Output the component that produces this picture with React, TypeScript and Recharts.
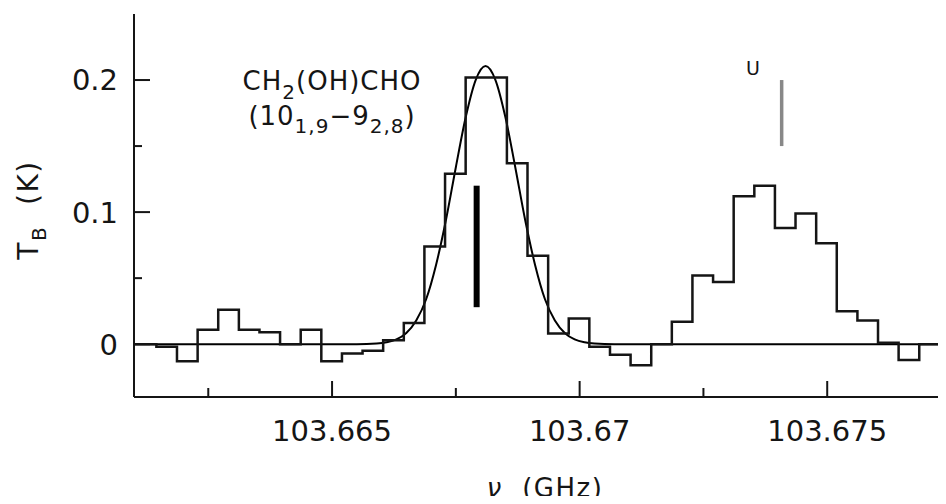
import { LineChart, Line, XAxis, YAxis, ReferenceLine, ReferenceDot } from "recharts"

// channel start frequencies (GHz) and brightness temperatures (K)
const chanFreq = [
    103.661, 103.661452, 103.661868, 103.662285, 103.662701, 103.663118, 103.663534, 103.66395,
    103.664367, 103.664783, 103.6652, 103.665616, 103.666032, 103.666449, 103.666865, 103.667282,
    103.667698, 103.668114, 103.668531, 103.668947, 103.669364, 103.66978, 103.670196, 103.670613,
    103.671029, 103.671446, 103.671862, 103.672278, 103.672695, 103.673111, 103.673528, 103.673944,
    103.67436, 103.674777, 103.675193, 103.67561, 103.676026, 103.676442, 103.676859, 103.677275,
    103.6775,
]
const chanTemp = [
    0, -0.002, -0.013, 0.011, 0.026, 0.011, 0.009, 0,
    0.011, -0.013, -0.007, -0.005, 0.003, 0.016, 0.074, 0.129,
    0.202, 0.202, 0.137, 0.067, 0.008, 0.0195, -0.002, -0.008,
    -0.016, 0, 0.017, 0.052, 0.047, 0.112, 0.12, 0.088,
    0.099, 0.0765, 0.025, 0.018, 0.001, -0.012, 0, -0.017,
    -0.017,
]

// gaussian fit
const fitFreq = [
    103.661, 103.6635, 103.6655, 103.6659, 103.6661, 103.6663, 103.6665, 103.6667, 103.6669,
    103.6671, 103.6673, 103.6675, 103.6677, 103.6679, 103.6681, 103.6683, 103.6685, 103.6687,
    103.6689, 103.6691, 103.6693, 103.6695, 103.6697, 103.6699, 103.6701, 103.6703, 103.6707,
    103.6725, 103.6775,
]
const fitTemp = [
    0, 0, 0, 0.0005, 0.0014, 0.0036, 0.0085, 0.018, 0.034,
    0.06, 0.094, 0.134, 0.172, 0.2, 0.2106, 0.2, 0.172, 0.134,
    0.094, 0.06, 0.034, 0.018, 0.0085, 0.0036, 0.0014, 0.0005, 0,
    0, 0,
]

const xTicks = [103.6625, 103.665, 103.6675, 103.67, 103.6725, 103.675]
const xLabels = [103.665, 103.67, 103.675]
const yTicks = [0, 0.05, 0.1, 0.15, 0.2]
const yLabels = [0, 0.1, 0.2]

const font = "'DejaVu Sans', sans-serif"
const ink = "#151515"

const isMajor = (list: number[], v: number) => list.some(l => Math.abs(l - v) < 1e-7)

function BottomTick({ x, y, payload }: any) {
    const major = isMajor(xLabels, payload.value)
    return (
        <g>
            <line x1={x} x2={x} y1={y} y2={y - (major ? 16 : 9)} stroke={ink} strokeWidth={2} />
            {major && (
                <text x={x} y={y + 44} textAnchor="middle" fontSize={29} fontFamily={font} fill={ink}>
                    {String(payload.value)}
                </text>
            )}
        </g>
    )
}

function TopTick({ x, y, payload }: any) {
    const major = isMajor(xLabels, payload.value)
    return <line x1={x} x2={x} y1={y} y2={y + (major ? 17 : 10)} stroke={ink} strokeWidth={2} />
}

function LeftTick({ x, y, payload }: any) {
    const major = isMajor(yLabels, payload.value)
    return (
        <g>
            <line x1={x} x2={x + (major ? 16 : 8)} y1={y} y2={y} stroke={ink} strokeWidth={2} />
            {major && (
                <text x={x - 16} y={y} dy="0.36em" textAnchor="end" fontSize={29} fontFamily={font} fill={ink}>
                    {String(payload.value)}
                </text>
            )}
        </g>
    )
}

function RightTick({ x, y, payload }: any) {
    const major = isMajor(yLabels, payload.value)
    return <line x1={x} x2={x - (major ? 16 : 8)} y1={y} y2={y} stroke={ink} strokeWidth={2} />
}

export default function App() {
    const histData = chanFreq.map((f, i) => ({ f, t: chanTemp[i] }))
    const fitData = fitFreq.map((f, i) => ({ f, t: fitTemp[i] }))

    return (
        <div style={{ margin: -8, width: 946, height: 504, overflow: "hidden", background: "#fff" }}>
            <LineChart width={960} height={504} margin={{ top: 14, right: 9, bottom: 0, left: 0 }}>
                <XAxis
                    dataKey="f"
                    type="number"
                    domain={[103.661, 103.6775]}
                    allowDataOverflow
                    ticks={xTicks}
                    interval={0}
                    height={107}
                    tickSize={0}
                    tickMargin={0}
                    tickLine={false}
                    axisLine={{ stroke: ink, strokeWidth: 2 }}
                    tick={BottomTick}
                    label={{
                        content: () => (
                            <text x={545} y={497} textAnchor="middle" fontSize={26} fontFamily={font} fill={ink} letterSpacing={1.5} style={{ whiteSpace: "pre" }}>
                                <tspan fontStyle="italic">ν</tspan>
                                {"  (GHz)"}
                            </text>
                        ),
                    }}
                />
                <XAxis
                    xAxisId="top"
                    orientation="top"
                    dataKey="f"
                    type="number"
                    domain={[103.661, 103.6775]}
                    allowDataOverflow
                    ticks={xTicks}
                    interval={0}
                    height={0}
                    tickSize={0}
                    tickMargin={0}
                    tickLine={false}
                    axisLine={{ stroke: ink, strokeWidth: 2 }}
                    tick={TopTick}
                />
                <YAxis
                    type="number"
                    domain={[-0.04, 0.25]}
                    allowDataOverflow
                    ticks={yTicks}
                    interval={0}
                    width={134}
                    tickSize={0}
                    tickMargin={0}
                    tickLine={false}
                    axisLine={{ stroke: ink, strokeWidth: 2 }}
                    tick={LeftTick}
                    label={{
                        content: () => (
                            <text
                                x={38}
                                y={210}
                                transform="rotate(-90, 38, 210)"
                                textAnchor="middle"
                                fontSize={28}
                                fontFamily={font}
                                fill={ink}
                                letterSpacing={1.5}
                                style={{ whiteSpace: "pre" }}
                            >
                                T<tspan fontSize={20} dy={8}>B</tspan>
                                <tspan dy={-8}>{"  (K)"}</tspan>
                            </text>
                        ),
                    }}
                />
                <YAxis
                    yAxisId="right"
                    orientation="right"
                    type="number"
                    domain={[-0.04, 0.25]}
                    allowDataOverflow
                    ticks={yTicks}
                    interval={0}
                    width={0}
                    tickSize={0}
                    tickMargin={0}
                    tickLine={false}
                    axisLine={{ stroke: ink, strokeWidth: 2 }}
                    tick={RightTick}
                />

                <Line data={fitData} dataKey="t" type="monotone" stroke="#000" strokeWidth={2} dot={false} isAnimationActive={false} />
                <Line data={histData} dataKey="t" type="stepAfter" stroke={ink} strokeWidth={2.5} dot={false} isAnimationActive={false} />

                <ReferenceLine segment={[{ x: 103.66792, y: 0.028 }, { x: 103.66792, y: 0.12 }]} stroke="#000" strokeWidth={6} />
                <ReferenceLine segment={[{ x: 103.67408, y: 0.15 }, { x: 103.67408, y: 0.2 }]} stroke="#888" strokeWidth={3.5} />

                <ReferenceDot
                    x={103.665}
                    y={0.1926}
                    r={0}
                    shape={(p: any) => (
                        <text x={p.cx} y={p.cy} textAnchor="middle" fontSize={26} fontFamily={font} fill={ink} letterSpacing={1}>
                            CH<tspan fontSize={20} dy={9}>2</tspan>
                            <tspan dy={-9}>(OH)CHO</tspan>
                        </text>
                    )}
                />
                <ReferenceDot
                    x={103.665}
                    y={0.1661}
                    r={0}
                    shape={(p: any) => (
                        <text x={p.cx} y={p.cy} textAnchor="middle" fontSize={26} fontFamily={font} fill={ink} letterSpacing={1}>
                            (10<tspan fontSize={20} dy={8}>1,9</tspan>
                            <tspan dy={-8}>−9</tspan>
                            <tspan fontSize={20} dy={8}>2,8</tspan>
                            <tspan dy={-8}>)</tspan>
                        </text>
                    )}
                />
                <ReferenceDot
                    x={103.6735}
                    y={0.204}
                    r={0}
                    shape={(p: any) => (
                        <text x={p.cx} y={p.cy} textAnchor="middle" fontSize={19} fontFamily={font} fill={ink}>
                            U
                        </text>
                    )}
                />
            </LineChart>
        </div>
    )
}
